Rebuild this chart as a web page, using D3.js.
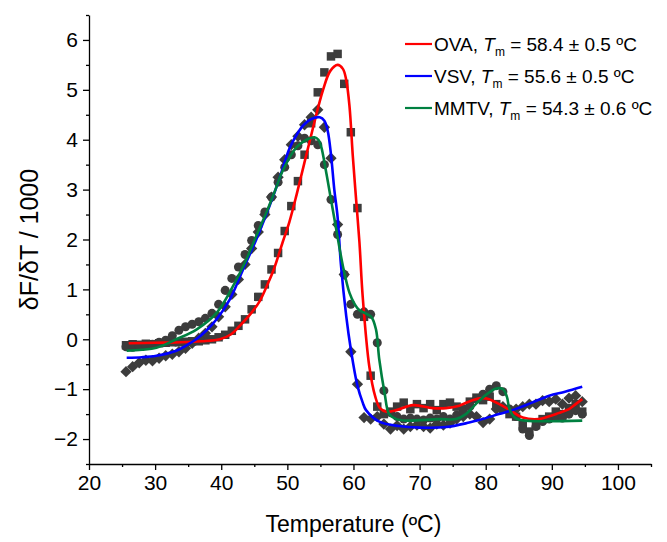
<!DOCTYPE html>
<html>
<head>
<meta charset="utf-8">
<script src="https://cdn.jsdelivr.net/npm/d3@7"></script>
<style>
  body { margin: 0; background: #fff; }
  svg { font-family: "Liberation Sans", Arial, sans-serif; }
</style>
</head>
<body>
<svg width="667" height="542"></svg>
<script>
// temperature grid shared by the three measured series (ºC)
var temps = [25.6, 26.6, 27.6, 28.6, 29.6, 30.6, 31.6, 32.6, 33.6, 34.6,
  35.6, 36.6, 37.6, 38.6, 39.6, 40.6, 41.6, 42.6, 43.6, 44.6,
  45.6, 46.6, 47.6, 48.6, 49.6, 50.6, 51.6, 52.6, 53.6, 54.6,
  55.6, 56.6, 57.6, 58.6, 59.6, 60.6, 61.6, 62.6, 63.6, 64.6,
  65.6, 66.6, 67.6, 68.6, 69.6, 70.6, 71.6, 72.6, 73.6, 74.6,
  75.6, 76.6, 77.6, 78.6, 79.6, 80.6, 81.6, 82.6, 83.6, 84.6,
  85.6, 86.6, 87.6, 88.6, 89.6, 90.6, 91.6, 92.6, 93.6, 94.6];

// dF/dT / 1000, squares
var ovaData = [-0.12, -0.10, -0.11, -0.09, -0.10, -0.08, -0.07, -0.06, -0.06, -0.05,
  -0.04, -0.04, -0.02, 0.00, 0.04, 0.09, 0.17, 0.27, 0.40, 0.60,
  0.85, 1.10, 1.40, 1.73, 2.17, 2.67, 3.17, 3.70, 4.33, 4.95,
  5.35, 5.67, 5.72, 5.12, 4.15, 2.63, 0.45, -0.73, -1.35, -1.50,
  -1.45, -1.35, -1.27, -1.40, -1.30, -1.38, -1.30, -1.42, -1.30, -1.27,
  -1.35, -1.40, -1.25, -1.17, -1.22, -1.15, -1.30, -1.40, -1.50, -1.55,
  -1.70, -1.85, -1.72, -1.60, -1.55, -1.45, -1.50, -1.38, -1.30, -1.45];

// diamonds
var vsvData = [-0.65, -0.55, -0.47, -0.42, -0.43, -0.38, -0.33, -0.30, -0.25, -0.18,
  -0.08, 0.02, 0.12, 0.25, 0.45, 0.65, 0.90, 1.20, 1.50, 1.82,
  2.15, 2.50, 2.85, 3.25, 3.60, 3.90, 4.07, 4.30, 4.45, 4.60,
  4.25, 3.63, 2.30, 1.30, -0.25, -0.90, -1.57, -1.60, -1.55, -1.70,
  -1.80, -1.73, -1.80, -1.75, -1.72, -1.75, -1.78, -1.70, -1.72, -1.68,
  -1.60, -1.55, -1.50, -1.55, -1.67, -1.60, -1.40, -1.35, -1.45, -1.40,
  -1.35, -1.30, -1.30, -1.23, -1.25, -1.20, -1.30, -1.18, -1.13, -1.25];

// circles
var mmtvData = [-0.15, -0.16, -0.14, -0.12, -0.10, -0.06, -0.02, 0.07, 0.18, 0.25,
  0.30, 0.35, 0.42, 0.52, 0.70, 0.98, 1.22, 1.45, 1.70, 1.98,
  2.28, 2.55, 2.85, 3.15, 3.45, 3.70, 3.88, 4.03, 3.98, 3.90,
  3.50, 2.80, 2.10, 1.30, 0.70, 0.50, 0.55, 0.50, -0.07, -1.03,
  -1.47, -1.55, -1.60, -1.58, -1.60, -1.62, -1.58, -1.60, -1.55, -1.60,
  -1.52, -1.45, -1.35, -1.20, -1.10, -1.00, -0.93, -1.05, -1.40, -1.55,
  -1.80, -1.93, -1.75, -1.65, -1.60, -1.55, -1.58, -1.50, -1.43, -1.50];

// fitted curves [T, value]
var ovaFit = [[26, -0.08], [30, -0.07], [34, -0.06], [37, -0.04], [39.8, 0.0], [41.5, 0.1],
  [42.8, 0.27], [44.5, 0.52], [45.8, 0.76], [47, 1.1], [48, 1.42], [49.3, 1.95], [50.3, 2.35],
  [51.4, 2.9], [52.6, 3.55], [53.9, 4.25], [55.4, 5.0], [56.5, 5.38], [57.6, 5.5], [58.4, 5.42],
  [58.9, 5.2], [59.4, 4.67], [59.9, 3.67], [60.4, 2.8], [60.9, 1.95], [61.4, 0.85], [62.4, -0.55],
  [63.3, -1.15], [64.0, -1.38], [65, -1.45], [66.5, -1.42], [69, -1.32], [72, -1.38], [74, -1.38],
  [76, -1.33], [78, -1.22], [79.5, -1.18], [80.5, -1.2], [82.5, -1.33], [84, -1.45], [85.6, -1.57],
  [88, -1.6], [89.5, -1.55], [91, -1.48], [92.6, -1.4], [93.6, -1.3], [94.6, -1.2]];

var vsvFit = [[25.7, -0.37], [28, -0.36], [30.2, -0.33], [33.2, -0.23], [35, -0.1], [36.2, 0.0],
  [37.8, 0.18], [39.3, 0.4], [41.3, 0.8], [43.3, 1.4], [45.3, 2.0], [47.3, 2.67], [48.8, 3.22],
  [50.3, 3.82], [51.5, 4.12], [52.5, 4.3], [53.7, 4.42], [54.9, 4.45], [55.6, 4.38], [56.1, 4.18],
  [56.6, 3.7], [57.1, 3.0], [57.6, 2.45], [58.1, 1.5], [58.9, 0.47], [59.6, -0.2], [60.6, -0.93],
  [61.4, -1.27], [61.9, -1.42], [63.9, -1.65], [66.9, -1.74], [70, -1.77], [74, -1.76],
  [77.5, -1.67], [79, -1.62], [82, -1.5], [84.5, -1.4], [87, -1.27], [89.6, -1.13], [92, -1.05],
  [94.6, -0.95]];

var mmtvFit = [[25.7, -0.23], [28, -0.21], [30.2, -0.17], [33.2, 0.0], [36.3, 0.2], [39.3, 0.53],
  [41.8, 1.07], [43.8, 1.6], [45.3, 2.07], [46.8, 2.53], [48.2, 3.0], [49.3, 3.38], [51.4, 3.85],
  [52.9, 4.0], [54.1, 4.05], [54.7, 4.0], [55.1, 3.87], [55.9, 3.33], [56.6, 2.8], [57.4, 2.2],
  [58.4, 1.47], [59.4, 0.93], [60.2, 0.7], [60.9, 0.58], [61.8, 0.52], [62.7, 0.45], [63.4, 0.2],
  [63.9, -0.4], [64.7, -1.07], [65.4, -1.5], [66.5, -1.6], [67.9, -1.63], [73, -1.6], [75.5, -1.6],
  [77, -1.5], [78.5, -1.3], [80, -1.12], [81.5, -0.99], [82.6, -1.0], [83.2, -1.15], [83.6, -1.4],
  [84.5, -1.58], [86, -1.63], [94.6, -1.63]];

var legendNames = ["OVA", "VSV", "MMTV"];
var legendTm = [" = 58.4 ± 0.5 ºC", " = 55.6 ± 0.5 ºC", " = 54.3 ± 0.6 ºC"];
var colors = ["#ff0000", "#0000ff", "#008040"];

var xMajor = [20, 30, 40, 50, 60, 70, 80, 90, 100];
var xMinor = [25, 35, 45, 55, 65, 75, 85, 95, 105];
var yMajor = [-2, -1, 0, 1, 2, 3, 4, 5, 6];
var yMinor = [-2.5, -1.5, -0.5, 0.5, 1.5, 2.5, 3.5, 4.5, 5.5, 6.5];

var svg = d3.select("svg"),
  margin = {top: 15, right: 16, bottom: 78, left: 89},
  width = +svg.attr("width") - margin.left - margin.right,
  height = +svg.attr("height") - margin.top - margin.bottom;

var x = d3.scaleLinear().domain([20, 105]).range([margin.left, margin.left + width]);
var y = d3.scaleLinear().domain([-2.5, 6.5]).range([margin.top + height, margin.top]);

// axes
var gx = svg.append("g").attr("transform", "translate(0," + y(-2.5) + ")");
gx.call(d3.axisBottom(x).tickValues(xMajor).tickSize(6).tickPadding(5).tickSizeOuter(0));
gx.append("g").call(d3.axisBottom(x).tickValues(xMinor).tickSize(3).tickFormat("").tickSizeOuter(0))
  .select(".domain").remove();

var gy = svg.append("g").attr("transform", "translate(" + x(20) + ",0)");
gy.call(d3.axisLeft(y).tickValues(yMajor).tickSize(6).tickPadding(5).tickSizeOuter(0));
gy.append("g").call(d3.axisLeft(y).tickValues(yMinor).tickSize(3).tickFormat("").tickSizeOuter(0))
  .select(".domain").remove();

svg.selectAll(".tick text").attr("font-size", 21).attr("fill", "#000")
  .attr("font-family", "Liberation Sans, Arial, sans-serif");
svg.selectAll(".domain, .tick line").attr("stroke", "#000").attr("stroke-width", 1.3);

svg.append("text")
  .attr("x", x(60)).attr("y", 532)
  .attr("text-anchor", "middle").attr("font-size", 23)
  .text("Temperature (ºC)");

svg.append("text")
  .attr("transform", "translate(38," + y(2) + ") rotate(-90)")
  .attr("text-anchor", "middle").attr("font-size", 25)
  .text("δF/δT / 1000");

// markers
var markerColor = "#3c3c3c";
var series = [
  {vals: ovaData, sym: d3.symbolSquare, size: 72, rot: 0},
  {vals: vsvData, sym: d3.symbolSquare, size: 64, rot: 45},
  {vals: mmtvData, sym: d3.symbolCircle, size: 64, rot: 0}
];
series.forEach(function(s) {
  svg.append("g").selectAll("path")
    .data(temps)
    .enter().append("path")
    .attr("d", d3.symbol().type(s.sym).size(s.size))
    .attr("fill", markerColor)
    .attr("transform", function(t, i) {
      return "translate(" + x(t) + "," + y(s.vals[i]) + ") rotate(" + s.rot + ")";
    });
});

// fit lines
var line = d3.line()
  .x(function(d) { return x(d[0]); })
  .y(function(d) { return y(d[1]); })
  .curve(d3.curveCatmullRom.alpha(0.5));

[ovaFit, vsvFit, mmtvFit].forEach(function(fit, i) {
  svg.append("path")
    .datum(fit)
    .attr("d", line)
    .attr("fill", "none")
    .attr("stroke", colors[i])
    .attr("stroke-width", 2.6);
});

// legend
var legend = svg.append("g").attr("transform", "translate(405,44)");
legendNames.forEach(function(name, i) {
  var row = legend.append("g").attr("transform", "translate(0," + (i * 32) + ")");
  row.append("line")
    .attr("x1", 0).attr("x2", 27)
    .attr("stroke", colors[i]).attr("stroke-width", 2.2);
  var t = row.append("text").attr("x", 29).attr("y", 7).attr("font-size", 19);
  t.append("tspan").text(name + ", ");
  t.append("tspan").attr("font-style", "italic").text("T");
  t.append("tspan").attr("font-size", 12).attr("dy", 5).text("m");
  t.append("tspan").attr("dy", -5).text(legendTm[i]);
});
</script>
</body>
</html>
